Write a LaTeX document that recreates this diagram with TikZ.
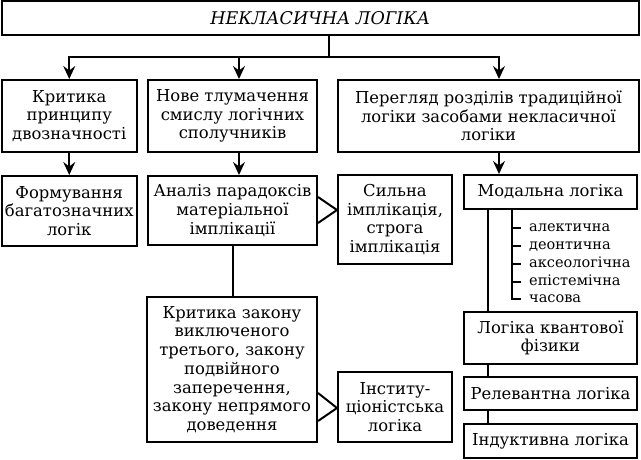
\documentclass[tikz,border=0pt]{standalone}
\usepackage{fontspec}
\setmainfont{DejaVu Serif}
\usetikzlibrary{arrows.meta}
\begin{document}
\begin{tikzpicture}[x=1pt,y=-1pt,
  box/.style={draw, line width=2pt, align=center, inner sep=0pt,
    font=\fontsize{16.4}{18.7}\selectfont},
  arr/.style={line width=2pt, -{Stealth[length=13pt,width=12pt,inset=4.5pt]}},
  ln/.style={line width=2pt},
  item/.style={anchor=west, inner sep=0pt, text height=10pt, text depth=3pt,
    font=\fontsize{14.5}{18.7}\selectfont}]
\useasboundingbox (0,0) rectangle (641,460);

\node[box, minimum width=637.5pt, minimum height=33.5pt, font=\fontsize{17.5}{18.7}\selectfont\itshape] (title) at (320.25,18.25) {НЕКЛАСИЧНА ЛОГІКА};

\node[box, minimum width=135.5pt, minimum height=72pt] (b1) at (69.25,116) {Критика\\принципу\\двозначності};
\node[box, minimum width=169pt, minimum height=72pt] (b2) at (232.5,116) {Нове тлумачення\\смислу логічних\\сполучників};
\node[box, minimum width=301pt, minimum height=72pt] (b3) at (488.5,116) {Перегляд розділів традиційної\\логіки засобами некласичної\\логіки};

\node[box, minimum width=135.5pt, minimum height=70pt] (c1) at (69.25,211) {Формування\\багатозначних\\логік};
\node[box, minimum width=169pt, minimum height=69pt] (c2) at (232.5,210.5) {Аналіз парадоксів\\матеріальної\\імплікації};
\node[box, minimum width=114pt, minimum height=89pt] (c3) at (395,219.5) {Сильна\\імплікація,\\строга\\імплікація};
\node[box, minimum width=173pt, minimum height=34pt] (m) at (550.5,192) {Модальна логіка};

\node[box, minimum width=170pt, minimum height=145pt] (d) at (232,369.5) {Критика закону\\виключеного\\третього, закону\\подвійного\\заперечення,\\закону непрямого\\доведення};
\node[box, minimum width=114pt, minimum height=70pt] (e) at (395,407) {Інститу-\\ціоністська\\логіка};

\node[box, minimum width=173pt, minimum height=52pt] (q) at (550.5,338) {Логіка квантової\\фізики};
\node[box, minimum width=173pt, minimum height=33pt] (r) at (550.5,393.5) {Релевантна логіка};
\node[box, minimum width=173pt, minimum height=34pt] (i) at (550.5,441) {Індуктивна логіка};

\node[item] (it1) at (529,228) {алектична};
\node[item] (it2) at (529,246) {деонтична};
\node[item] (it3) at (529,264) {аксеологічна};
\node[item] (it4) at (529,282) {епістемічна};
\node[item] (it5) at (529,299) {часова};

% connectors
\coordinate (j) at (329,57);
\coordinate (a1) at (69.25,0);
\coordinate (a2) at (239,0);
\coordinate (a3) at (499,0);
\draw[ln] (title.south -| j) -- (j);
\draw[arr] (j) -| (a1 |- b1.north);
\draw[arr] (j) -| (a2 |- b2.north);
\draw[arr] (j) -| (a3 |- b3.north);

\draw[arr] (b1.south) -- (c1.north);
\draw[arr] (a2 |- b2.south) -- (a2 |- c2.north);
\draw[arr] (a3 |- b3.south) -- (a3 |- m.north);

\coordinate (vd) at (233,0);
\draw[ln] (vd |- c2.south) -- (vd |- d.north);

\coordinate (f1) at (c3.west |- 0,210);
\draw[ln, line join=miter] (c2.east |- 0,197) -- (f1) -- (c2.east |- 0,223);
\coordinate (f2) at (e.west |- 0,408);
\draw[ln, line join=miter] (d.east |- 0,393) -- (f2) -- (d.east |- 0,421);

\coordinate (v) at (488,0);
\draw[ln] (v |- m.south) -- (v |- q.north);
\draw[ln] (v |- q.south) -- (v |- r.north);
\draw[ln] (v |- r.south) -- (v |- i.north);

\coordinate (br) at (512,0);
\draw[ln] (br |- m.south) -- (br |- it5.west) -- ([xshift=-8pt]it5.west);
\foreach \k in {1,2,3,4} {
  \draw[ln] (br |- it\k.west) -- ([xshift=-8pt]it\k.west);
}
\end{tikzpicture}
\end{document}
